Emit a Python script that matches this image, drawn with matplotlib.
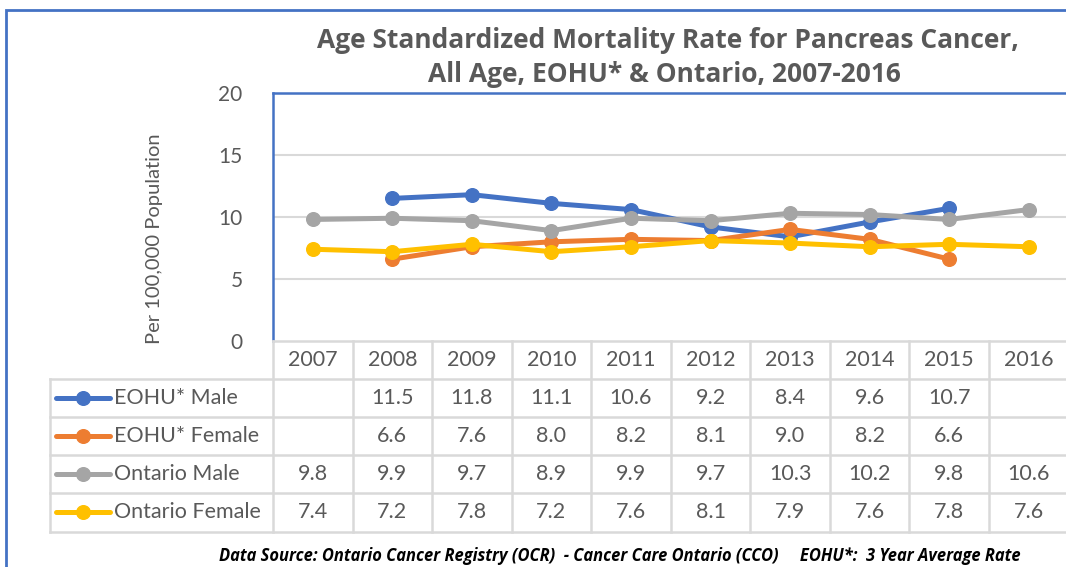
import matplotlib
matplotlib.use("Agg")
import matplotlib.pyplot as plt
import numpy as np
from matplotlib.lines import Line2D
from matplotlib.patches import Rectangle

years = ["2007", "2008", "2009", "2010", "2011", "2012", "2013", "2014", "2015", "2016"]
series_names = ["EOHU* Male", "EOHU* Female", "Ontario Male", "Ontario Female"]
eohu_male = [None, 11.5, 11.8, 11.1, 10.6, 9.2, 8.4, 9.6, 10.7, None]
eohu_female = [None, 6.6, 7.6, 8.0, 8.2, 8.1, 9.0, 8.2, 6.6, None]
ontario_male = [9.8, 9.9, 9.7, 8.9, 9.9, 9.7, 10.3, 10.2, 9.8, 10.6]
ontario_female = [7.4, 7.2, 7.8, 7.2, 7.6, 8.1, 7.9, 7.6, 7.8, 7.6]
colors = ["#4472C4", "#ED7D31", "#A5A5A5", "#FFC000"]
yticks = [0, 5, 10, 15, 20]

title = "Age Standardized Mortality Rate for Pancreas Cancer,\nAll Age, EOHU* & Ontario, 2007-2016"
ylabel = "Per 100,000 Population"
footer = "Data Source: Ontario Cancer Registry (OCR)  - Cancer Care Ontario (CCO)     EOHU*:  3 Year Average Rate"

FONT = ["Lato", "DejaVu Sans"]
BFONT = ["Open Sans", "DejaVu Sans"]
plt.rcParams["font.family"] = FONT
TXT = "#595959"
GRID = "#D9D9D9"

W, H = 1066, 567
fig = plt.figure(figsize=(W / 100, H / 100), dpi=100)

def fx(px):
    return px / W

def fy(py):
    return 1 - py / H

# outer chart border
fig.patches.append(Rectangle((fx(6), fy(600)), fx(1100), fy(9.5) - fy(600),
                             transform=fig.transFigure, fill=False,
                             edgecolor="#4472C4", linewidth=2, zorder=0))

# main plot axes
L, R, T, B = 273, 1068.5, 93, 341
ax = fig.add_axes([fx(L), fy(B), fx(R - L), fy(T) - fy(B)])
n = len(years)
x = np.arange(n)
all_series = [eohu_male, eohu_female, ontario_male, ontario_female]
MS = 9.8
for vals, c, name in zip(all_series, colors, series_names):
    v = np.array([np.nan if a is None else a for a in vals], dtype=float)
    ax.plot(x, v, color=c, linewidth=3.6, marker="o", markersize=MS,
            solid_capstyle="round", label=name, zorder=3)
ax.set_xlim(-0.5, n - 0.5)
ax.set_ylim(0, 20)
ax.set_yticks(yticks)
ax.set_yticklabels([str(t) for t in yticks], fontsize=15, color=TXT)
ax.set_xticks([])
ax.tick_params(axis="y", length=0, pad=22)
for t in yticks[1:-1]:
    ax.axhline(t, color=GRID, linewidth=1.5, zorder=1)
for s in ["top", "left", "right"]:
    ax.spines[s].set_color("#4472C4")
    ax.spines[s].set_linewidth(1.8)
ax.spines["bottom"].set_visible(False)
ax.set_ylabel(ylabel, fontsize=14.5, color=TXT)
ax.yaxis.set_label_coords((163 - L) / (R - L), (B - 239) / (B - T))

# title
fig.text(fx(668), fy(40), title.split("\n")[0], ha="center", va="center",
         fontsize=19, fontweight="bold", color=TXT, family=BFONT)
fig.text(fx(664), fy(75), title.split("\n")[1], ha="center", va="center",
         fontsize=19, fontweight="bold", color=TXT, family=BFONT)

# data table axes
TL, TB = 50, 531.5
colw = (R - L) / n
legend_cols = (L - TL) / colw
tax = fig.add_axes([fx(TL), fy(TB), fx(R - TL), fy(B) - fy(TB)])
tax.set_xlim(-0.5 - legend_cols, n - 0.5)
nrows = len(series_names) + 1
tax.set_ylim(nrows, 0)
tax.axis("off")
lw = 1.8
tax.plot([-0.5, n - 0.5], [0, 0], color=GRID, lw=lw, clip_on=False)
for r in range(1, nrows + 1):
    tax.plot([-0.5 - legend_cols, n - 0.5], [r, r], color=GRID, lw=lw, clip_on=False)
tax.plot([-0.5 - legend_cols] * 2, [1, nrows], color=GRID, lw=lw, clip_on=False)
for c in range(n + 1):
    tax.plot([c - 0.5] * 2, [0, nrows], color=GRID, lw=lw, clip_on=False)
for i, yname in enumerate(years):
    tax.text(i, 0.5, yname, ha="center", va="center", fontsize=15.5, color=TXT)
x0 = -0.5 - legend_cols
for r, (vals, c, name) in enumerate(zip(all_series, colors, series_names), start=1):
    tax.add_line(Line2D([x0 + 0.07, x0 + 0.75], [r + 0.5, r + 0.5], color=c, lw=3.6,
                        solid_capstyle="round"))
    tax.plot([x0 + 0.41], [r + 0.5], marker="o", markersize=MS, color=c)
    tax.text(x0 + 0.8, r + 0.5, name, ha="left", va="center", fontsize=15.5, color=TXT)
    for i, v in enumerate(vals):
        if v is not None:
            tax.text(i, r + 0.5, f"{v:.1f}", ha="center", va="center", fontsize=15.5, color=TXT)

# footer
fig.text(fx(620), fy(556), footer, ha="center", va="center", fontsize=11.9,
         fontweight="bold", fontstyle="italic", color="black", family=BFONT)

fig.savefig("out.png", dpi=100)
